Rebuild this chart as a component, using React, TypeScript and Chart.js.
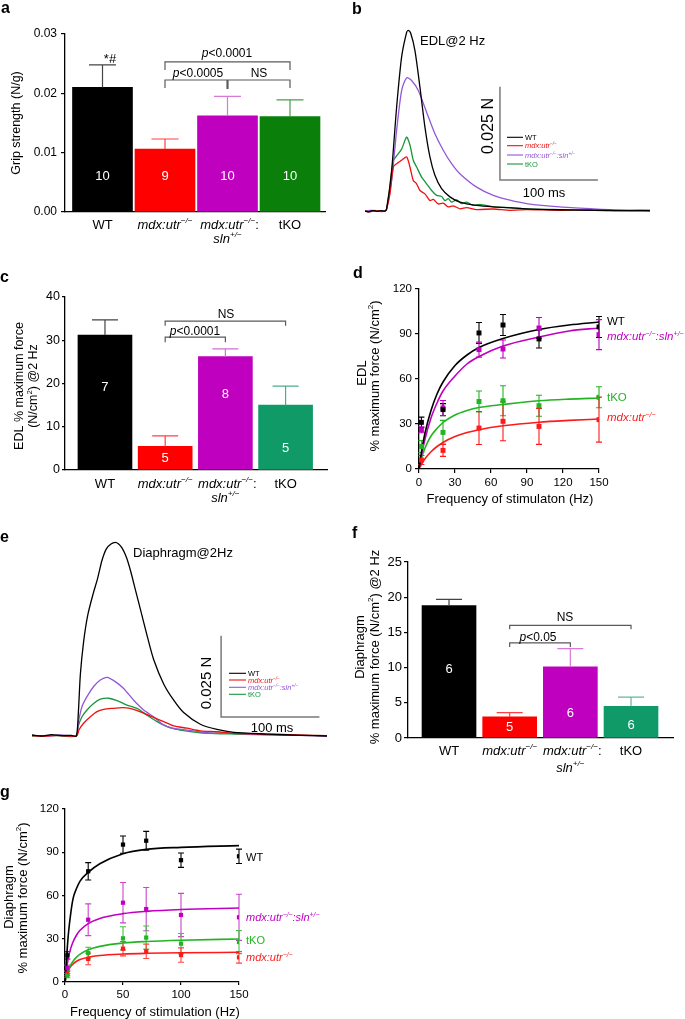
import React, { useEffect, useRef } from 'react';
import { Chart, registerables } from 'chart.js';

Chart.register(...registerables);

const FONT = '"Liberation Sans", Arial, Helvetica, sans-serif';

// ================= DATA =================
const groups = ['WT', 'mdx:utr−/−', 'mdx:utr−/−:sln+/−', 'tKO'];

// a: grip strength (N/g)
const gripMean = [0.021, 0.0106, 0.0162, 0.0161];
const gripSem = [0.0038, 0.0017, 0.0033, 0.0028];
const gripN = [10, 9, 10, 10];

// c: EDL % maximum force @2 Hz
const edlMean = [31.2, 5.5, 26.2, 15.0];
const edlSem = [3.5, 2.4, 1.8, 4.4];
const edlN = [7, 5, 8, 5];

// f: Diaphragm % maximum force @2 Hz
const diaMean = [18.8, 3.0, 10.1, 4.5];
const diaSem = [0.9, 0.6, 2.6, 1.3];
const diaN = [6, 5, 6, 6];

// d / g: force-frequency
const freqHz = [2, 20, 50, 70, 100, 150];
const edlForceWT = [31.1, 39.6, 90.7, 96.0, 86.7, 94.7];
const edlSemWT = [3.5, 4.0, 7.0, 7.0, 6.0, 7.0];
const edlForceSln = [26.2, 40.7, 79.6, 80.0, 94.0, 89.6];
const edlSemSln = [2.0, 5.0, 5.0, 6.0, 7.0, 10.0];
const edlForceTKO = [15.0, 24.4, 45.0, 45.5, 42.2, 47.8];
const edlSemTKO = [4.0, 8.0, 7.0, 10.0, 7.0, 7.0];
const edlForceMdx = [6.0, 12.4, 27.3, 31.8, 28.4, 32.9];
const edlSemMdx = [3.0, 4.0, 11.0, 13.0, 12.0, 15.0];

const edlFitHz = [0, 2, 5, 10, 15, 20, 30, 40, 50, 70, 100, 125, 150];
const edlFitWT = [0, 11, 24, 39, 50, 58, 69, 76, 81, 87, 93, 96, 98];
const edlFitSln = [0, 9, 20, 34, 44, 52, 62, 70, 75, 82, 88, 92, 94];
const edlFitTKO = [0, 7, 14, 22, 27, 31, 36, 39, 41, 43, 45.5, 46.6, 47.3];
const edlFitMdx = [0, 3, 6.8, 11.5, 15, 17.7, 21.6, 24.3, 26.2, 28.8, 31.2, 32.4, 33.3];

const diaForceWT = [18.5, 76.8, 95.3, 98.0, 84.5, 87.2];
const diaSemWT = [2.5, 6, 6, 6.5, 5, 5];
const diaForceSln = [9.7, 43.2, 55.0, 50.6, 46.5, 44.9];
const diaSemSln = [2, 11, 14, 15, 15, 16];
const diaForceTKO = [4.4, 20.1, 30.3, 30.8, 26.6, 27.7];
const diaSemTKO = [1.5, 4, 8, 8, 7, 8];
const diaForceMdx = [5.8, 16.0, 23.1, 21.3, 18.7, 17.1];
const diaSemMdx = [1.5, 4, 5, 5, 5, 4];

const diaFitHz = [0, 1, 2, 3, 5, 7, 10, 13, 20, 30, 50, 70, 100, 150];
const diaFitWT = [0, 12, 24, 34, 48, 58, 65, 70, 76, 82, 89, 92, 93.4, 94.6];
const diaFitSln = [0, 7.2, 12.7, 17.1, 23.5, 27.9, 32.6, 35.9, 40.5, 44.1, 47.4, 49, 50.3, 51.3];
const diaFitTKO = [0, 3.4, 6.2, 8.4, 11.9, 14.5, 17.3, 19.3, 22.3, 24.7, 27, 28.1, 29, 29.8];
const diaFitMdx = [0, 3.7, 6.3, 8.2, 10.9, 12.6, 14.4, 15.6, 17.2, 18.4, 19.4, 19.9, 20.3, 20.6];

// b: EDL twitch traces @2 Hz  [time ms, force mN]
const edlTraceWT = [[0, 0], [4, -0.2], [8, 0.15], [12, -0.1], [16, 0.1], [20.4, 0], [22.1, 0.6], [27.2, 10.9], [32.3, 27.9], [37.4, 41.3], [42.5, 47.9], [44.2, 48.4], [46.6, 47.7], [51, 43], [56.1, 33.2], [61.2, 22.5], [66.3, 14.5], [71.4, 9.6], [78.2, 6.0], [86.7, 3.8], [96.9, 2.4], [114, 1.5], [131, 1.1], [165, 0.6], [199, 0.35], [233, 0.2], [260, 0.1], [291, 0.1]];
const edlTraceSln = [[0, 0], [5, 0.2], [10, -0.1], [15, 0.1], [20.4, 0], [22.1, 0.6], [27.2, 8.2], [32.3, 21.6], [37.4, 32.3], [42.5, 35.7], [47.6, 35.0], [54.4, 32.3], [62.9, 26.5], [71.4, 20.7], [79.9, 16.3], [88.4, 12.7], [96.9, 10.0], [114, 6.4], [131, 4.2], [148, 2.9], [165, 2.0], [199, 1.1], [233, 0.6], [260, 0.3], [291, 0.2]];
const edlTraceTKO = [[0, 0], [6, 0.2], [12, -0.1], [18, 0.1], [20.4, 0], [22.1, 0.6], [25.5, 6.4], [28.9, 13.5], [32.3, 14.8], [37.4, 16.6], [42.5, 19.8], [45.9, 17.7], [49.3, 13.6], [52.7, 11.8], [57.8, 9.1], [62.9, 7.3], [68, 5.5], [73.1, 4.2], [78.2, 3.9], [81.6, 2.8], [85, 3.3], [88.4, 2.4], [93.5, 3.0], [98.6, 2.0], [103.7, 2.4], [110.5, 1.5], [117.3, 1.8], [131, 1.1], [148, 0.9], [165, 0.6], [199, 0.4], [240, 0.2], [291, 0]];
const edlTraceMdx = [[0, 0], [5, -0.2], [10, 0.2], [15, -0.1], [20.4, 0], [22.1, 0.6], [25.5, 4.6], [28.9, 11.8], [32.3, 12.7], [37.4, 13.6], [42.5, 14.5], [45.9, 11.8], [49.3, 8.2], [52.7, 7.3], [56.1, 5.5], [61.2, 4.6], [66.3, 2.8], [69.7, 3.1], [74.8, 1.9], [79.9, 2.1], [85, 1.1], [90.1, 1.4], [96.9, 0.6], [103.7, 0.9], [114, 0.4], [131, 0.55], [148, 0.2], [165, 0.4], [199, 0.2], [230, 0.4], [260, 0.1], [291, 0.2]];

// e: Diaphragm twitch traces @2 Hz [time ms, force mN]
const diaTraceWT = [[0, 0.3], [10, 0], [20, 0.4], [30, 0.1], [40, 0.2], [45.1, 0], [47.1, 7], [49.2, 19], [52.5, 29], [56.6, 37], [62, 43.5], [66.8, 48.5], [71.2, 54], [75.6, 57.5], [80.3, 59], [84.7, 59.5], [88.1, 59], [91.5, 57.8], [95.9, 55], [100, 51], [105.1, 45], [110.2, 39], [116.9, 31], [123.7, 23.5], [133.9, 16], [144.1, 11], [154.2, 7.2], [171.2, 3.6], [188.1, 2.0], [205.1, 1.1], [239, 0.6], [272.9, 0.2], [300, 0]];
const diaTraceSln = [[0, 0.2], [15, 0], [30, 0.3], [45.1, 0], [47, 4], [50.8, 9.0], [55.9, 12.1], [62.7, 15.2], [69.5, 17.2], [76.3, 18.0], [84.7, 16.7], [93.2, 14.6], [103.4, 11.0], [113.6, 8.0], [123.7, 5.9], [133.9, 3.4], [144.1, 2.3], [157.6, 1.8], [178, 1.0], [205, 0.8], [239, 0.4], [270, 0.2], [300, 0]];
const diaTraceTKO = [[0, 0], [20, 0.2], [45.1, 0], [47, 3], [50.8, 5.9], [55.9, 8.0], [62.7, 10.0], [69.5, 11.3], [78, 11.6], [86.4, 10.9], [96.6, 9.5], [106.8, 8.5], [116.9, 6.4], [127.1, 4.4], [137.3, 2.9], [150.8, 1.8], [171.2, 1.0], [205.1, 0.6], [250, 0.3], [300, 0.1]];
const diaTraceMdx = [[0, 0.1], [10, -0.1], [25, 0.2], [45.1, 0], [48, 2], [52.5, 3.9], [59.3, 5.9], [66.1, 7.5], [72.9, 8.2], [83.1, 8.5], [93.2, 8.7], [103.4, 8.2], [113.6, 7.0], [123.7, 5.7], [133.9, 4.4], [144.1, 3.1], [157.6, 2.4], [171.2, 1.6], [188.1, 1.3], [205.1, 0.8], [239, 0.6], [270, 0.3], [300, 0.1]];

// ================= TEXT HELPERS =================
type Seg = [string, number];
const IT = 1;
const SU = 2;

const L_WT: Seg[] = [['WT', 0]];
const L_MDX: Seg[] = [['mdx:utr', IT], ['−/−', IT | SU]];
const L_MDXSLN: Seg[] = [['mdx:utr', IT], ['−/−', IT | SU], [':sln', IT], ['+/−', IT | SU]];
const L_TKO: Seg[] = [['tKO', 0]];
const groupLabelLines: Seg[][][] = [
  [L_WT],
  [L_MDX],
  [[['mdx:utr', IT], ['−/−', IT | SU], [':', 0]], [['sln', IT], ['+/−', IT | SU]]],
  [L_TKO],
];

function rich(ctx: any, segs: Seg[], x: number, y: number, size: number, color: string, align = 'left') {
  const fonts = segs.map(([, f]) => `${f & IT ? 'italic ' : ''}${f & SU ? (size * 0.62).toFixed(1) : size}px ${FONT}`);
  const widths = segs.map(([t], i) => {
    ctx.font = fonts[i];
    return ctx.measureText(t).width;
  });
  const total = widths.reduce((a, b) => a + b, 0);
  let cx = align === 'center' ? x - total / 2 : align === 'right' ? x - total : x;
  const base = y + size * 0.36;
  ctx.fillStyle = color;
  ctx.textAlign = 'left';
  ctx.textBaseline = 'alphabetic';
  segs.forEach(([t, f], i) => {
    ctx.font = fonts[i];
    ctx.fillText(t, cx, f & SU ? base - size * 0.4 : base);
    cx += widths[i];
  });
}

function richRot(ctx: any, segs: Seg[], x: number, y: number, size: number, color: string) {
  ctx.save();
  ctx.translate(x, y);
  ctx.rotate(-Math.PI / 2);
  rich(ctx, segs, 0, 0, size, color, 'center');
  ctx.restore();
}

function letter(ctx: any, ch: string, x: number, y: number) {
  ctx.font = `bold 16px ${FONT}`;
  ctx.fillStyle = '#000';
  ctx.textAlign = 'left';
  ctx.textBaseline = 'alphabetic';
  ctx.fillText(ch, x, y);
}

function bracket(ctx: any, x1: number, x2: number, y: number, drop: number) {
  ctx.strokeStyle = '#5a5a5a';
  ctx.lineWidth = 1.2;
  ctx.beginPath();
  ctx.moveTo(x1, y + drop);
  ctx.lineTo(x1, y);
  ctx.lineTo(x2, y);
  ctx.lineTo(x2, y + drop);
  ctx.stroke();
}

// ================= CHART HELPERS =================
const baseOpts = (pad: any) => ({
  animation: false,
  responsive: false,
  maintainAspectRatio: false,
  devicePixelRatio: 1,
  events: [],
  layout: { padding: pad },
  plugins: { legend: { display: false }, tooltip: { enabled: false } },
});

function yAxis(o: any) {
  const ticks: any = { stepSize: o.step, color: '#000', font: { family: FONT, size: o.size }, padding: o.pad, autoSkip: false };
  if (o.fmt) ticks.callback = o.fmt;
  return {
    type: 'linear',
    min: o.min,
    max: o.max,
    ticks,
    grid: { display: true, drawOnChartArea: false, drawTicks: true, tickLength: o.len, color: '#000', lineWidth: 1.2 },
    border: { display: true, color: '#000', width: 1.3 },
    afterFit: (s: any) => {
      s.width = o.w;
      s.paddingTop = 0;
      s.paddingBottom = 0;
      s.paddingLeft = 0;
      s.paddingRight = 0;
    },
  };
}

function xAxisNum(o: any) {
  return {
    type: 'linear',
    min: o.min,
    max: o.max,
    ticks: { stepSize: o.step, color: '#000', font: { family: FONT, size: o.size }, padding: o.pad, autoSkip: false, maxRotation: 0 },
    grid: { display: true, drawOnChartArea: false, drawTicks: true, tickLength: o.len, color: '#000', lineWidth: 1.2 },
    border: { display: true, color: '#000', width: 1.3 },
    afterFit: (s: any) => {
      s.height = o.h;
      s.paddingLeft = 0;
      s.paddingRight = 0;
      s.paddingTop = 0;
      s.paddingBottom = 0;
    },
  };
}

function barConfig(p: any) {
  return {
    type: 'bar',
    data: {
      datasets: [
        {
          label: 'mean',
          data: p.means.map((v: number, i: number) => ({ x: i, y: v })),
          backgroundColor: p.colors,
          borderWidth: 0,
          barThickness: p.barW,
        },
      ],
    },
    options: {
      ...baseOpts(p.pad),
      scales: {
        x: {
          type: 'linear',
          min: p.xMin,
          max: p.xMax,
          offset: false,
          ticks: { display: false },
          grid: { display: false },
          border: { display: true, color: '#000', width: 1.3 },
          afterFit: (s: any) => {
            s.height = p.xH;
            s.paddingLeft = 0;
            s.paddingRight = 0;
          },
        },
        y: yAxis({ min: 0, max: p.yMax, step: p.step, size: p.tickSize, len: p.tickLen, pad: p.tickPad, w: p.yW, fmt: p.fmt }),
      },
    },
    plugins: [
      {
        id: 'anno',
        afterDatasetsDraw(chart: any) {
          const ctx = chart.ctx;
          const xs = chart.scales.x;
          const ys = chart.scales.y;
          const X = (v: number) => xs.getPixelForValue(v) + p.left;
          const Y = (v: number) => ys.getPixelForValue(v) + p.top;
          ctx.save();
          ctx.translate(-p.left, -p.top);
          const bottom = chart.chartArea.bottom + p.top;
          p.means.forEach((m: number, i: number) => {
            const x = X(i);
            const y0 = Y(m);
            const y1 = Y(m + p.sems[i]);
            ctx.strokeStyle = p.errColors[i];
            ctx.lineWidth = 1.2;
            ctx.beginPath();
            ctx.moveTo(x, y0);
            ctx.lineTo(x, y1);
            ctx.moveTo(x - p.capW / 2, y1);
            ctx.lineTo(x + p.capW / 2, y1);
            ctx.stroke();
            rich(ctx, [[String(p.ns[i]), 0]], x, Y(p.nY[i]), p.nSize, '#fff', 'center');
            groupLabelLines[i].forEach((line, k) =>
              rich(ctx, line, x + (i === 2 && k === 0 ? 2 : 0), bottom + (k ? p.lab2 : p.lab1), p.labSize, '#000', 'center'),
            );
          });
          p.extra(ctx, X, Y);
          ctx.restore();
        },
      },
    ],
  };
}

function curveConfig(p: any) {
  const datasets: any[] = [];
  p.series.forEach((s: any) =>
    datasets.push({
      label: s.label,
      data: p.freqs.map((f: number, i: number) => ({ x: f, y: s.y[i] })),
      showLine: false,
      pointStyle: 'rect',
      pointRadius: p.ptR,
      pointBackgroundColor: s.color,
      pointBorderWidth: 0,
      borderColor: s.color,
    }),
  );
  p.series.forEach((s: any) =>
    datasets.push({
      label: s.label + ' fit',
      data: p.fitX.map((f: number, i: number) => ({ x: f, y: s.fit[i] })),
      borderColor: s.color,
      borderWidth: 1.6,
      pointRadius: 0,
      cubicInterpolationMode: 'monotone',
      fill: false,
    }),
  );
  return {
    type: 'line',
    data: { datasets },
    options: {
      ...baseOpts(p.pad),
      scales: {
        x: xAxisNum({ min: 0, max: 150, step: p.xStep, size: p.tickSize, len: p.tickLen, pad: p.tickPad, h: p.xH }),
        y: yAxis({ min: 0, max: 120, step: 30, size: p.tickSize, len: p.tickLen, pad: p.tickPad, w: p.yW }),
      },
    },
    plugins: [
      {
        id: 'errs',
        beforeDatasetsDraw(chart: any) {
          const ctx = chart.ctx;
          const xs = chart.scales.x;
          const ys = chart.scales.y;
          ctx.save();
          p.series.forEach((s: any) => {
            ctx.strokeStyle = s.errColor || s.color;
            ctx.lineWidth = 1.1;
            ctx.beginPath();
            p.freqs.forEach((f: number, i: number) => {
              const x = xs.getPixelForValue(f);
              const yt = ys.getPixelForValue(s.y[i] + s.sem[i]);
              const yb = ys.getPixelForValue(Math.max(0, s.y[i] - s.sem[i]));
              ctx.moveTo(x, yt);
              ctx.lineTo(x, yb);
              ctx.moveTo(x - 3, yt);
              ctx.lineTo(x + 3, yt);
              ctx.moveTo(x - 3, yb);
              ctx.lineTo(x + 3, yb);
            });
            ctx.stroke();
          });
          ctx.restore();
        },
        afterDraw(chart: any) {
          const ctx = chart.ctx;
          ctx.save();
          ctx.translate(-p.left, -p.top);
          p.extra(ctx);
          ctx.restore();
        },
      },
    ],
  };
}

function traceConfig(p: any) {
  return {
    type: 'line',
    data: {
      datasets: p.traces.map((tr: any) => ({
        label: tr.label,
        data: tr.pts.map(([t, f]: number[]) => ({ x: t, y: f })),
        borderColor: tr.color,
        borderWidth: 1.3,
        pointRadius: 0,
        tension: 0.25,
        fill: false,
      })),
    },
    options: {
      ...baseOpts(p.pad),
      scales: {
        x: { type: 'linear', display: false, min: 0, max: p.xMax },
        y: { type: 'linear', display: false, min: -2, max: p.yMax },
      },
    },
    plugins: [
      {
        id: 'anno',
        afterDraw(chart: any) {
          const ctx = chart.ctx;
          const xs = chart.scales.x;
          const ys = chart.scales.y;
          const X = (v: number) => xs.getPixelForValue(v) + p.left;
          const Y = (v: number) => ys.getPixelForValue(v) + p.top;
          ctx.save();
          ctx.translate(-p.left, -p.top);
          // scale bar: 0.025 N and 100 ms
          ctx.strokeStyle = '#7a7a7a';
          ctx.lineWidth = 1.5;
          ctx.beginPath();
          ctx.moveTo(X(p.barT), Y(p.barF + 25));
          ctx.lineTo(X(p.barT), Y(p.barF));
          ctx.lineTo(X(p.barT + 100), Y(p.barF));
          ctx.stroke();
          // legend
          p.traces.forEach((tr: any, i: number) => {
            const y = p.legRows[i];
            ctx.strokeStyle = tr.color;
            ctx.lineWidth = 1.1;
            ctx.beginPath();
            ctx.moveTo(p.legX0, y);
            ctx.lineTo(p.legX1, y);
            ctx.stroke();
            rich(ctx, tr.seg, p.legX1 + 2, y, 7.5, tr.color, 'left');
          });
          p.extra(ctx);
          ctx.restore();
        },
      },
    ],
  };
}

// ================= PANEL CONFIGS =================
const C_WT = '#000000';
const C_RED = '#ff0000';
const C_MAG = '#bf00bf';

function configA() {
  return barConfig({
    left: 0,
    top: 0,
    means: gripMean,
    sems: gripSem,
    ns: gripN,
    nY: [0.0062, 0.0062, 0.0062, 0.0062],
    colors: [C_WT, C_RED, C_MAG, '#0a7f0a'],
    errColors: ['#444', '#ff4040', '#d77ad7', '#4a9e4a'],
    yMax: 0.03,
    step: 0.01,
    fmt: (v: any) => Number(v).toFixed(2),
    tickSize: 12,
    tickLen: 4,
    tickPad: 4,
    yW: 65,
    xH: 38,
    pad: { left: 0, top: 34, right: 15, bottom: 0 },
    xMin: -0.6,
    xMax: 3.56,
    barW: 60,
    capW: 27,
    nSize: 13,
    lab1: 12,
    lab2: 26,
    labSize: 13,
    extra: (ctx: any, X: any, Y: any) => {
      letter(ctx, 'a', 1, 13);
      richRot(ctx, [['Grip strength (N/g)', 0]], 15, 123, 12.5, '#000');
      rich(ctx, [['*#', 0]], 110, 58, 13, '#000', 'center');
      bracket(ctx, X(1), X(3), Y(0.0253), 8);
      bracket(ctx, X(1), X(3), Y(0.02225), 8);
      ctx.strokeStyle = '#5a5a5a';
      ctx.lineWidth = 2.2;
      ctx.beginPath();
      ctx.moveTo(X(2), Y(0.02225));
      ctx.lineTo(X(2), Y(0.02225) + 9);
      ctx.stroke();
      rich(ctx, [['p', IT], ['<0.0001', 0]], 227, 53, 12, '#000', 'center');
      rich(ctx, [['p', IT], ['<0.0005', 0]], 198, 73, 12, '#000', 'center');
      rich(ctx, [['NS', 0]], 259, 73, 12, '#000', 'center');
    },
  });
}

function configC() {
  return barConfig({
    left: 0,
    top: 250,
    means: edlMean,
    sems: edlSem,
    ns: edlN,
    nY: [19.4, 3.0, 17.8, 5.3],
    colors: [C_WT, C_RED, C_MAG, '#0f9a68'],
    errColors: ['#444', '#ff4040', '#d070d0', '#4aae88'],
    yMax: 40,
    step: 10,
    tickSize: 12.5,
    tickLen: 3,
    tickPad: 2,
    yW: 65,
    xH: 40,
    pad: { left: 0, top: 47, right: 13, bottom: 0 },
    xMin: -0.664,
    xMax: 3.688,
    barW: 54,
    capW: 26,
    nSize: 13,
    lab1: 13,
    lab2: 27,
    labSize: 13,
    extra: (ctx: any, X: any, Y: any) => {
      letter(ctx, 'c', 0, 282);
      richRot(ctx, [['EDL % maximum force', 0]], 18, 386, 12.5, '#000');
      richRot(ctx, [['(N/cm', 0], ['2', SU], [') @2 Hz', 0]], 32, 386, 12.5, '#000');
      bracket(ctx, X(1), X(3), Y(34.4), 4.5);
      bracket(ctx, X(1), X(2), Y(30.7), 5);
      rich(ctx, [['NS', 0]], 226, 314, 12, '#000', 'center');
      rich(ctx, [['p', IT], ['<0.0001', 0]], 195, 331, 12, '#000', 'center');
    },
  });
}

function configF() {
  return barConfig({
    left: 340,
    top: 510,
    means: diaMean,
    sems: diaSem,
    ns: diaN,
    nY: [9.9, 1.6, 3.7, 1.9],
    colors: [C_WT, C_RED, C_MAG, '#0f9a68'],
    errColors: ['#444', '#ff4040', '#d77ad7', '#60b898'],
    yMax: 25,
    step: 5,
    tickSize: 13,
    tickLen: 4,
    tickPad: 2,
    yW: 68,
    xH: 37,
    pad: { left: 0, top: 52, right: 12, bottom: 0 },
    xMin: -0.676,
    xMax: 3.692,
    barW: 54,
    capW: 26,
    nSize: 13,
    lab1: 12,
    lab2: 29,
    labSize: 13,
    extra: (ctx: any, X: any, Y: any) => {
      letter(ctx, 'f', 352, 538);
      richRot(ctx, [['Diaphragm', 0]], 359, 647, 13, '#000');
      richRot(ctx, [['% maximum force (N/cm', 0], ['2', SU], [') @2 Hz', 0]], 374, 647, 13, '#000');
      bracket(ctx, X(1), X(3), Y(16.0), 4);
      bracket(ctx, X(1), X(2), Y(13.5), 4);
      rich(ctx, [['NS', 0]], 565, 617, 12, '#000', 'center');
      rich(ctx, [['p', IT], ['<0.05', 0]], 538, 637, 12, '#000', 'center');
    },
  });
}

function configD() {
  return curveConfig({
    left: 340,
    top: 250,
    pad: { left: 0, top: 39, right: 86, bottom: 0 },
    yW: 79,
    xH: 41,
    xStep: 30,
    tickSize: 11.5,
    tickLen: 4,
    tickPad: 3,
    ptR: 3.5,
    freqs: freqHz,
    fitX: edlFitHz,
    series: [
      { label: 'WT', y: edlForceWT, sem: edlSemWT, fit: edlFitWT, color: '#000000' },
      { label: groups[2], y: edlForceSln, sem: edlSemSln, fit: edlFitSln, color: '#c000c0' },
      { label: 'tKO', y: edlForceTKO, sem: edlSemTKO, fit: edlFitTKO, color: '#22b422' },
      { label: groups[1], y: edlForceMdx, sem: edlSemMdx, fit: edlFitMdx, color: '#ff1a1a' },
    ],
    extra: (ctx: any) => {
      letter(ctx, 'd', 353, 278);
      richRot(ctx, [['EDL', 0]], 361, 373, 13, '#000');
      richRot(ctx, [['% maximum force (N/cm', 0], ['2', SU], [')', 0]], 374, 376, 13, '#000');
      rich(ctx, [['Frequency of stimulaton (Hz)', 0]], 510, 498, 13, '#000', 'center');
      rich(ctx, L_WT, 607, 321, 11.5, '#000', 'left');
      rich(ctx, L_MDXSLN, 607, 336, 11.5, '#c000c0', 'left');
      rich(ctx, L_TKO, 607, 397, 11.5, '#22b422', 'left');
      rich(ctx, L_MDX, 607, 417, 11.5, '#ff1a1a', 'left');
    },
  });
}

function configG() {
  return curveConfig({
    left: 0,
    top: 775,
    pad: { left: 0, top: 34, right: 161, bottom: 0 },
    yW: 65,
    xH: 37,
    xStep: 50,
    tickSize: 11.5,
    tickLen: 3,
    tickPad: 3,
    ptR: 3,
    freqs: freqHz,
    fitX: diaFitHz,
    series: [
      { label: 'WT', y: diaForceWT, sem: diaSemWT, fit: diaFitWT, color: '#000000' },
      { label: groups[2], y: diaForceSln, sem: diaSemSln, fit: diaFitSln, color: '#c000c0', errColor: '#cc44cc' },
      { label: 'tKO', y: diaForceTKO, sem: diaSemTKO, fit: diaFitTKO, color: '#22b422', errColor: '#44c044' },
      { label: groups[1], y: diaForceMdx, sem: diaSemMdx, fit: diaFitMdx, color: '#ff1a1a', errColor: '#ff4444' },
    ],
    extra: (ctx: any) => {
      letter(ctx, 'g', 0, 797);
      richRot(ctx, [['Diaphragm', 0]], 8, 897, 13, '#000');
      richRot(ctx, [['% maximum force (N/cm', 0], ['2', SU], [')', 0]], 22, 898, 13, '#000');
      rich(ctx, [['Frequency of stimulation (Hz)', 0]], 155, 1011, 13, '#000', 'center');
      rich(ctx, L_WT, 246, 857, 11, '#000', 'left');
      rich(ctx, L_MDXSLN, 246, 917, 11, '#c000c0', 'left');
      rich(ctx, L_TKO, 246, 940, 11, '#22b422', 'left');
      rich(ctx, L_MDX, 246, 957, 11, '#ff1a1a', 'left');
    },
  });
}

function configB() {
  return traceConfig({
    left: 340,
    top: 0,
    pad: { left: 25, right: 35, top: 20, bottom: 31.5 },
    xMax: 291,
    yMax: 51.2,
    barT: 137.8,
    barF: 8.3,
    legX0: 507,
    legX1: 523,
    legRows: [137.3, 145.7, 155, 164],
    traces: [
      { label: 'WT', pts: edlTraceWT, color: '#000000', seg: L_WT },
      { label: groups[1], pts: edlTraceMdx, color: '#ee1111', seg: L_MDX },
      { label: groups[2], pts: edlTraceSln, color: '#9457d8', seg: L_MDXSLN },
      { label: 'tKO', pts: edlTraceTKO, color: '#17963c', seg: L_TKO },
    ],
    extra: (ctx: any) => {
      letter(ctx, 'b', 352, 14);
      rich(ctx, [['EDL@2 Hz', 0]], 420, 40, 13, '#000', 'left');
      richRot(ctx, [['0.025 N', 0]], 487.5, 126, 16, '#000');
      rich(ctx, [['100 ms', 0]], 544, 192, 13, '#000', 'center');
    },
  });
}

function configE() {
  return traceConfig({
    left: 0,
    top: 510,
    pad: { left: 32, right: 13, top: 27.5, bottom: 17.5 },
    xMax: 300,
    yMax: 61,
    barT: 192.3,
    barF: 5.84,
    legX0: 229,
    legX1: 246,
    legRows: [673.3, 680, 687.3, 694.3],
    traces: [
      { label: 'WT', pts: diaTraceWT, color: '#000000', seg: L_WT },
      { label: groups[1], pts: diaTraceMdx, color: '#ee1111', seg: L_MDX },
      { label: groups[2], pts: diaTraceSln, color: '#9457d8', seg: L_MDXSLN },
      { label: 'tKO', pts: diaTraceTKO, color: '#17963c', seg: L_TKO },
    ],
    extra: (ctx: any) => {
      letter(ctx, 'e', 0, 542);
      rich(ctx, [['Diaphragm@2Hz', 0]], 133, 552, 13, '#000', 'left');
      richRot(ctx, [['0.025 N', 0]], 206, 683, 15, '#000');
      rich(ctx, [['100 ms', 0]], 272, 727, 13, '#000', 'center');
    },
  });
}

// ================= COMPONENTS =================
function Panel({ left, top, width, height, make }: any) {
  const ref = useRef<HTMLCanvasElement | null>(null);
  useEffect(() => {
    if (!ref.current) return;
    const chart = new Chart(ref.current, make());
    return () => chart.destroy();
  }, []);
  return (
    <canvas
      ref={ref}
      width={width}
      height={height}
      style={{ position: 'absolute', left, top, width, height, display: 'block' }}
    />
  );
}

export default function App() {
  return (
    <div style={{ position: 'absolute', left: 0, top: 0, width: 685, height: 1019, background: '#fff', overflow: 'hidden' }}>
      <Panel left={0} top={0} width={340} height={250} make={configA} />
      <Panel left={340} top={0} width={345} height={250} make={configB} />
      <Panel left={0} top={250} width={340} height={260} make={configC} />
      <Panel left={340} top={250} width={345} height={260} make={configD} />
      <Panel left={0} top={510} width={340} height={250} make={configE} />
      <Panel left={340} top={510} width={345} height={265} make={configF} />
      <Panel left={0} top={775} width={400} height={244} make={configG} />
    </div>
  );
}
